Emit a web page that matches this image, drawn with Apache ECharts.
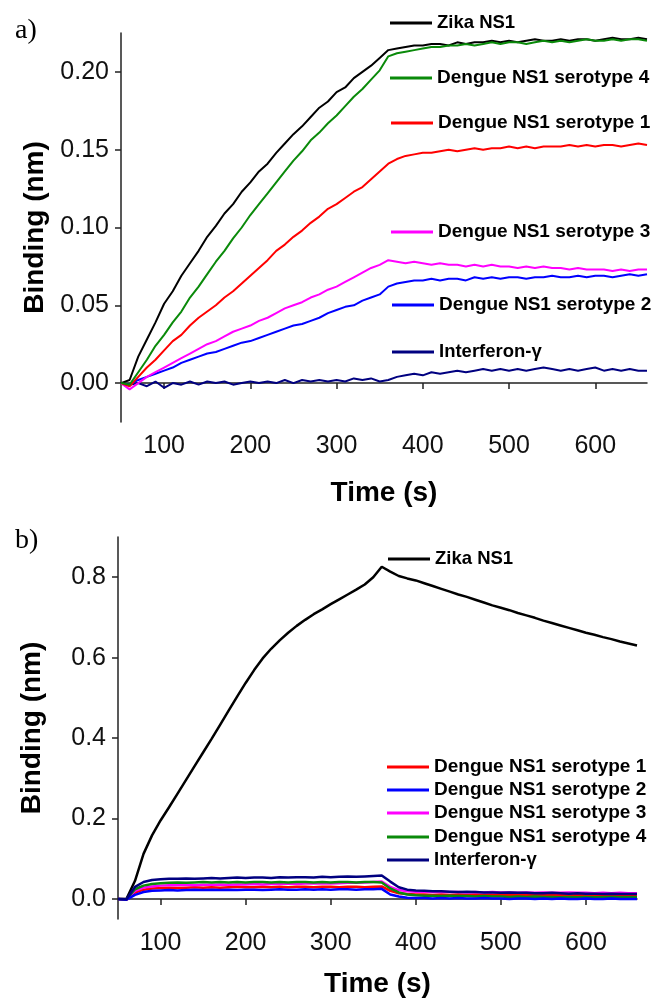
<!DOCTYPE html>
<html>
<head>
<meta charset="utf-8">
<script src="https://cdn.jsdelivr.net/npm/echarts@6/dist/echarts.min.js"></script>
<style>
  html, body { margin: 0; padding: 0; background: #fff; }
  #main { width: 653px; height: 999px; }
</style>
</head>
<body>
<div id="main"></div>
<script>
// time axis (s), shared by both panels
var times = [50,60,70,80,90,100,110,120,130,140,150,160,170,180,190,200,210,220,230,240,250,260,270,280,290,300,310,320,330,340,350,360,370,380,390,400,410,420,430,440,450,460,470,480,490,500,510,520,530,540,550,560,570,580,590,600,610,620,630,640,650,660];

var xTicks = [100, 200, 300, 400, 500, 600];
var yTicksA = [0, 0.05, 0.10, 0.15, 0.20];
var yTicksB = [0, 0.2, 0.4, 0.6, 0.8];

// panel a) binding (nm)
var aZika = [0.000,0.002,0.017,0.028,0.039,0.051,0.059,0.069,0.077,0.085,0.094,0.101,0.109,0.115,0.123,0.129,0.136,0.141,0.148,0.154,0.160,0.165,0.171,0.177,0.181,0.187,0.190,0.196,0.200,0.204,0.209,0.214,0.215,0.216,0.217,0.217,0.218,0.218,0.217,0.219,0.218,0.219,0.219,0.220,0.219,0.220,0.219,0.220,0.221,0.220,0.220,0.221,0.220,0.221,0.221,0.220,0.221,0.222,0.221,0.221,0.222,0.221];
var aD4 = [0.000,-0.001,0.007,0.015,0.024,0.031,0.039,0.046,0.055,0.062,0.070,0.078,0.085,0.093,0.100,0.108,0.115,0.122,0.129,0.136,0.143,0.149,0.156,0.161,0.167,0.172,0.178,0.184,0.189,0.195,0.201,0.210,0.212,0.213,0.214,0.215,0.216,0.216,0.217,0.217,0.218,0.217,0.218,0.219,0.218,0.219,0.219,0.218,0.219,0.220,0.219,0.220,0.219,0.220,0.221,0.220,0.220,0.221,0.220,0.221,0.221,0.220];
var aD1 = [0.000,-0.002,0.004,0.010,0.015,0.021,0.027,0.031,0.037,0.042,0.046,0.050,0.055,0.059,0.064,0.069,0.074,0.079,0.085,0.089,0.094,0.098,0.103,0.107,0.112,0.115,0.119,0.123,0.126,0.131,0.136,0.141,0.144,0.146,0.147,0.148,0.148,0.149,0.150,0.149,0.150,0.151,0.150,0.151,0.151,0.152,0.151,0.152,0.151,0.152,0.152,0.152,0.153,0.152,0.153,0.152,0.153,0.153,0.152,0.153,0.154,0.153];
var aD3 = [0.000,-0.004,0.000,0.004,0.007,0.010,0.013,0.016,0.019,0.022,0.025,0.027,0.030,0.033,0.035,0.037,0.040,0.042,0.045,0.048,0.050,0.052,0.055,0.057,0.060,0.062,0.065,0.068,0.071,0.074,0.076,0.079,0.078,0.077,0.078,0.077,0.076,0.077,0.076,0.076,0.075,0.076,0.075,0.076,0.075,0.075,0.074,0.075,0.074,0.075,0.074,0.074,0.073,0.074,0.073,0.073,0.073,0.072,0.073,0.072,0.073,0.073];
var aD2 = [0.000,-0.001,0.002,0.004,0.006,0.008,0.010,0.013,0.015,0.017,0.019,0.020,0.022,0.024,0.026,0.027,0.029,0.031,0.033,0.035,0.037,0.038,0.040,0.042,0.045,0.047,0.049,0.050,0.053,0.055,0.057,0.062,0.064,0.065,0.066,0.066,0.067,0.066,0.067,0.067,0.066,0.068,0.067,0.068,0.067,0.068,0.068,0.067,0.068,0.068,0.069,0.068,0.068,0.069,0.068,0.069,0.069,0.068,0.069,0.070,0.069,0.070];
var aIfn = [0.000,-0.001,0.000,-0.002,0.001,-0.003,0.000,-0.001,0.001,-0.001,0.001,0.000,0.001,-0.001,0.000,0.001,0.000,0.001,0.000,0.002,0.000,0.002,0.001,0.002,0.001,0.002,0.001,0.003,0.002,0.003,0.001,0.002,0.004,0.005,0.006,0.005,0.007,0.006,0.007,0.008,0.007,0.008,0.009,0.008,0.009,0.008,0.009,0.008,0.009,0.010,0.009,0.008,0.009,0.008,0.009,0.010,0.008,0.009,0.008,0.009,0.008,0.008];

// panel b) binding (nm)
var bZika = [0.000,0.000,0.045,0.112,0.158,0.195,0.228,0.262,0.296,0.330,0.364,0.398,0.433,0.468,0.503,0.537,0.569,0.598,0.622,0.643,0.662,0.679,0.694,0.708,0.720,0.733,0.745,0.757,0.769,0.782,0.800,0.826,0.814,0.803,0.797,0.792,0.785,0.778,0.771,0.764,0.757,0.751,0.744,0.737,0.730,0.724,0.718,0.711,0.705,0.699,0.692,0.686,0.680,0.674,0.668,0.662,0.657,0.651,0.646,0.640,0.635,0.630];
var bD1 = [0.000,-0.002,0.016,0.023,0.026,0.027,0.028,0.027,0.028,0.029,0.028,0.029,0.028,0.029,0.030,0.029,0.029,0.030,0.029,0.030,0.029,0.030,0.030,0.029,0.030,0.030,0.029,0.030,0.030,0.029,0.030,0.031,0.020,0.014,0.012,0.011,0.011,0.010,0.011,0.010,0.011,0.010,0.011,0.010,0.010,0.011,0.010,0.010,0.011,0.010,0.010,0.011,0.010,0.010,0.011,0.010,0.010,0.011,0.010,0.010,0.011,0.010];
var bD2 = [0.000,-0.002,0.010,0.017,0.020,0.021,0.022,0.021,0.022,0.023,0.022,0.023,0.022,0.023,0.022,0.023,0.023,0.022,0.023,0.024,0.023,0.023,0.024,0.023,0.024,0.023,0.024,0.024,0.023,0.024,0.024,0.025,0.011,0.006,0.003,0.002,0.002,0.001,0.002,0.001,0.002,0.001,0.001,0.002,0.001,0.001,0.000,0.001,0.001,0.000,0.001,0.000,0.001,0.000,0.000,0.001,0.000,0.000,0.001,0.000,0.000,0.000];
var bD3 = [0.000,-0.001,0.020,0.028,0.031,0.033,0.034,0.034,0.035,0.034,0.035,0.035,0.036,0.035,0.036,0.036,0.037,0.036,0.037,0.037,0.038,0.037,0.038,0.038,0.039,0.038,0.039,0.040,0.040,0.041,0.042,0.043,0.030,0.022,0.019,0.018,0.018,0.017,0.018,0.017,0.017,0.016,0.017,0.016,0.017,0.016,0.016,0.015,0.016,0.015,0.016,0.015,0.015,0.016,0.015,0.015,0.014,0.015,0.014,0.015,0.014,0.014];
var bD4 = [0.000,-0.001,0.024,0.033,0.037,0.039,0.040,0.041,0.040,0.041,0.042,0.041,0.042,0.041,0.042,0.041,0.042,0.042,0.041,0.042,0.041,0.042,0.042,0.041,0.042,0.041,0.042,0.042,0.041,0.042,0.042,0.041,0.026,0.016,0.011,0.009,0.008,0.008,0.007,0.008,0.007,0.007,0.006,0.007,0.006,0.006,0.005,0.006,0.005,0.006,0.005,0.005,0.004,0.005,0.004,0.005,0.004,0.004,0.005,0.004,0.004,0.004];
var bIfn = [0.000,-0.001,0.030,0.042,0.047,0.049,0.050,0.050,0.051,0.050,0.051,0.052,0.051,0.052,0.053,0.052,0.053,0.053,0.052,0.054,0.053,0.054,0.054,0.053,0.055,0.054,0.055,0.056,0.055,0.056,0.057,0.058,0.043,0.029,0.023,0.021,0.020,0.019,0.019,0.018,0.017,0.018,0.017,0.016,0.016,0.015,0.016,0.015,0.015,0.014,0.014,0.015,0.014,0.013,0.014,0.013,0.013,0.012,0.013,0.012,0.012,0.012];

var FONT = "'Liberation Sans', Arial, sans-serif";
var colors = {
  'Zika NS1': '#000000',
  'Dengue NS1 serotype 1': '#ff0000',
  'Dengue NS1 serotype 2': '#0000ff',
  'Dengue NS1 serotype 3': '#ff00ff',
  'Dengue NS1 serotype 4': '#0a8a0a',
  'Interferon-γ': '#000080'
};

function pairs(vals) {
  return times.map(function (t, i) { return [t, vals[i]]; });
}

function line(name, vals, idx, width) {
  return {
    name: name, type: 'line', xAxisIndex: idx, yAxisIndex: idx,
    data: pairs(vals), showSymbol: false, symbol: 'none',
    lineStyle: { color: colors[name], width: width },
    itemStyle: { color: colors[name] },
    z: 2
  };
}

function legendItem(name, left, cy, size) {
  return {
    data: [name], left: left, top: cy - 11, padding: 0,
    icon: 'rect', itemWidth: 42, itemHeight: 3,
    selectedMode: false,
    textStyle: { fontFamily: FONT, fontWeight: 'bold', fontSize: size, color: '#000', lineHeight: 22 }
  };
}

function xAxis(idx, nameGap) {
  return {
    type: 'value', gridIndex: idx, min: 50, max: 660,
    name: 'Time (s)', nameLocation: 'middle', nameGap: nameGap,
    nameTextStyle: { fontFamily: FONT, fontWeight: 'bold', fontSize: 28, color: '#000' },
    axisLine: { show: true, lineStyle: { color: '#222', width: 1.5 } },
    axisTick: { show: true, inside: false, length: 6, customValues: xTicks, lineStyle: { color: '#222', width: 1.5 } },
    axisLabel: { customValues: xTicks, margin: 12, fontFamily: FONT, fontSize: 25, color: '#111' },
    splitLine: { show: false }
  };
}

function yAxis(idx, min, max, ticks, digits) {
  return {
    type: 'value', gridIndex: idx, min: min, max: max,
    name: 'Binding (nm)', nameLocation: 'middle', nameGap: 72,
    nameTextStyle: { fontFamily: FONT, fontWeight: 'bold', fontSize: 28, color: '#000' },
    axisLine: { show: true, lineStyle: { color: '#222', width: 1.5 } },
    axisTick: { show: true, inside: false, length: 6, customValues: ticks, lineStyle: { color: '#222', width: 1.5 } },
    axisLabel: {
      customValues: ticks, margin: 12, fontFamily: FONT, fontSize: 25, color: '#111',
      formatter: function (v) { return v.toFixed(digits); }
    },
    splitLine: { show: false }
  };
}

var chart = echarts.init(document.getElementById('main'), null, { renderer: 'canvas' });

chart.setOption({
  animation: false,
  backgroundColor: '#fff',
  grid: [
    { left: 121, top: 33, right: 6, bottom: 577, containLabel: false },
    { left: 118, top: 537, right: 16, bottom: 80, containLabel: false }
  ],
  xAxis: [xAxis(0, 57), xAxis(1, 51)],
  yAxis: [
    yAxis(0, -0.025, 0.225, yTicksA, 2),
    yAxis(1, -0.05, 0.9, yTicksB, 1)
  ],
  legend: [
    legendItem('Zika NS1', 390, 23, 18.5),
    legendItem('Dengue NS1 serotype 4', 390, 78, 19),
    legendItem('Dengue NS1 serotype 1', 391, 123, 19),
    legendItem('Dengue NS1 serotype 3', 391, 232, 19),
    legendItem('Dengue NS1 serotype 2', 392, 305, 19),
    legendItem('Interferon-γ', 392, 352, 18.5),
    legendItem('Zika NS1', 388, 559, 18.5),
    legendItem('Dengue NS1 serotype 1', 387, 767, 19),
    legendItem('Dengue NS1 serotype 2', 387, 790, 19),
    legendItem('Dengue NS1 serotype 3', 387, 813, 19),
    legendItem('Dengue NS1 serotype 4', 387, 837, 19),
    legendItem('Interferon-γ', 387, 860, 18.5)
  ],
  graphic: [
    { type: 'text', left: 15, top: 17, style: { text: 'a)', font: "28px 'Liberation Serif', serif", fill: '#000' } },
    { type: 'text', left: 15, top: 527, style: { text: 'b)', font: "28px 'Liberation Serif', serif", fill: '#000' } }
  ],
  series: [
    line('Interferon-γ', aIfn, 0, 2),
    line('Dengue NS1 serotype 2', aD2, 0, 2),
    line('Dengue NS1 serotype 3', aD3, 0, 2),
    line('Dengue NS1 serotype 1', aD1, 0, 2),
    line('Zika NS1', aZika, 0, 2),
    line('Dengue NS1 serotype 4', aD4, 0, 2),
    line('Zika NS1', bZika, 1, 2.5),
    line('Dengue NS1 serotype 1', bD1, 1, 2.5),
    line('Dengue NS1 serotype 3', bD3, 1, 2.5),
    line('Dengue NS1 serotype 4', bD4, 1, 2.5),
    line('Dengue NS1 serotype 2', bD2, 1, 2.5),
    line('Interferon-γ', bIfn, 1, 2.5)
  ]
});
</script>
</body>
</html>
